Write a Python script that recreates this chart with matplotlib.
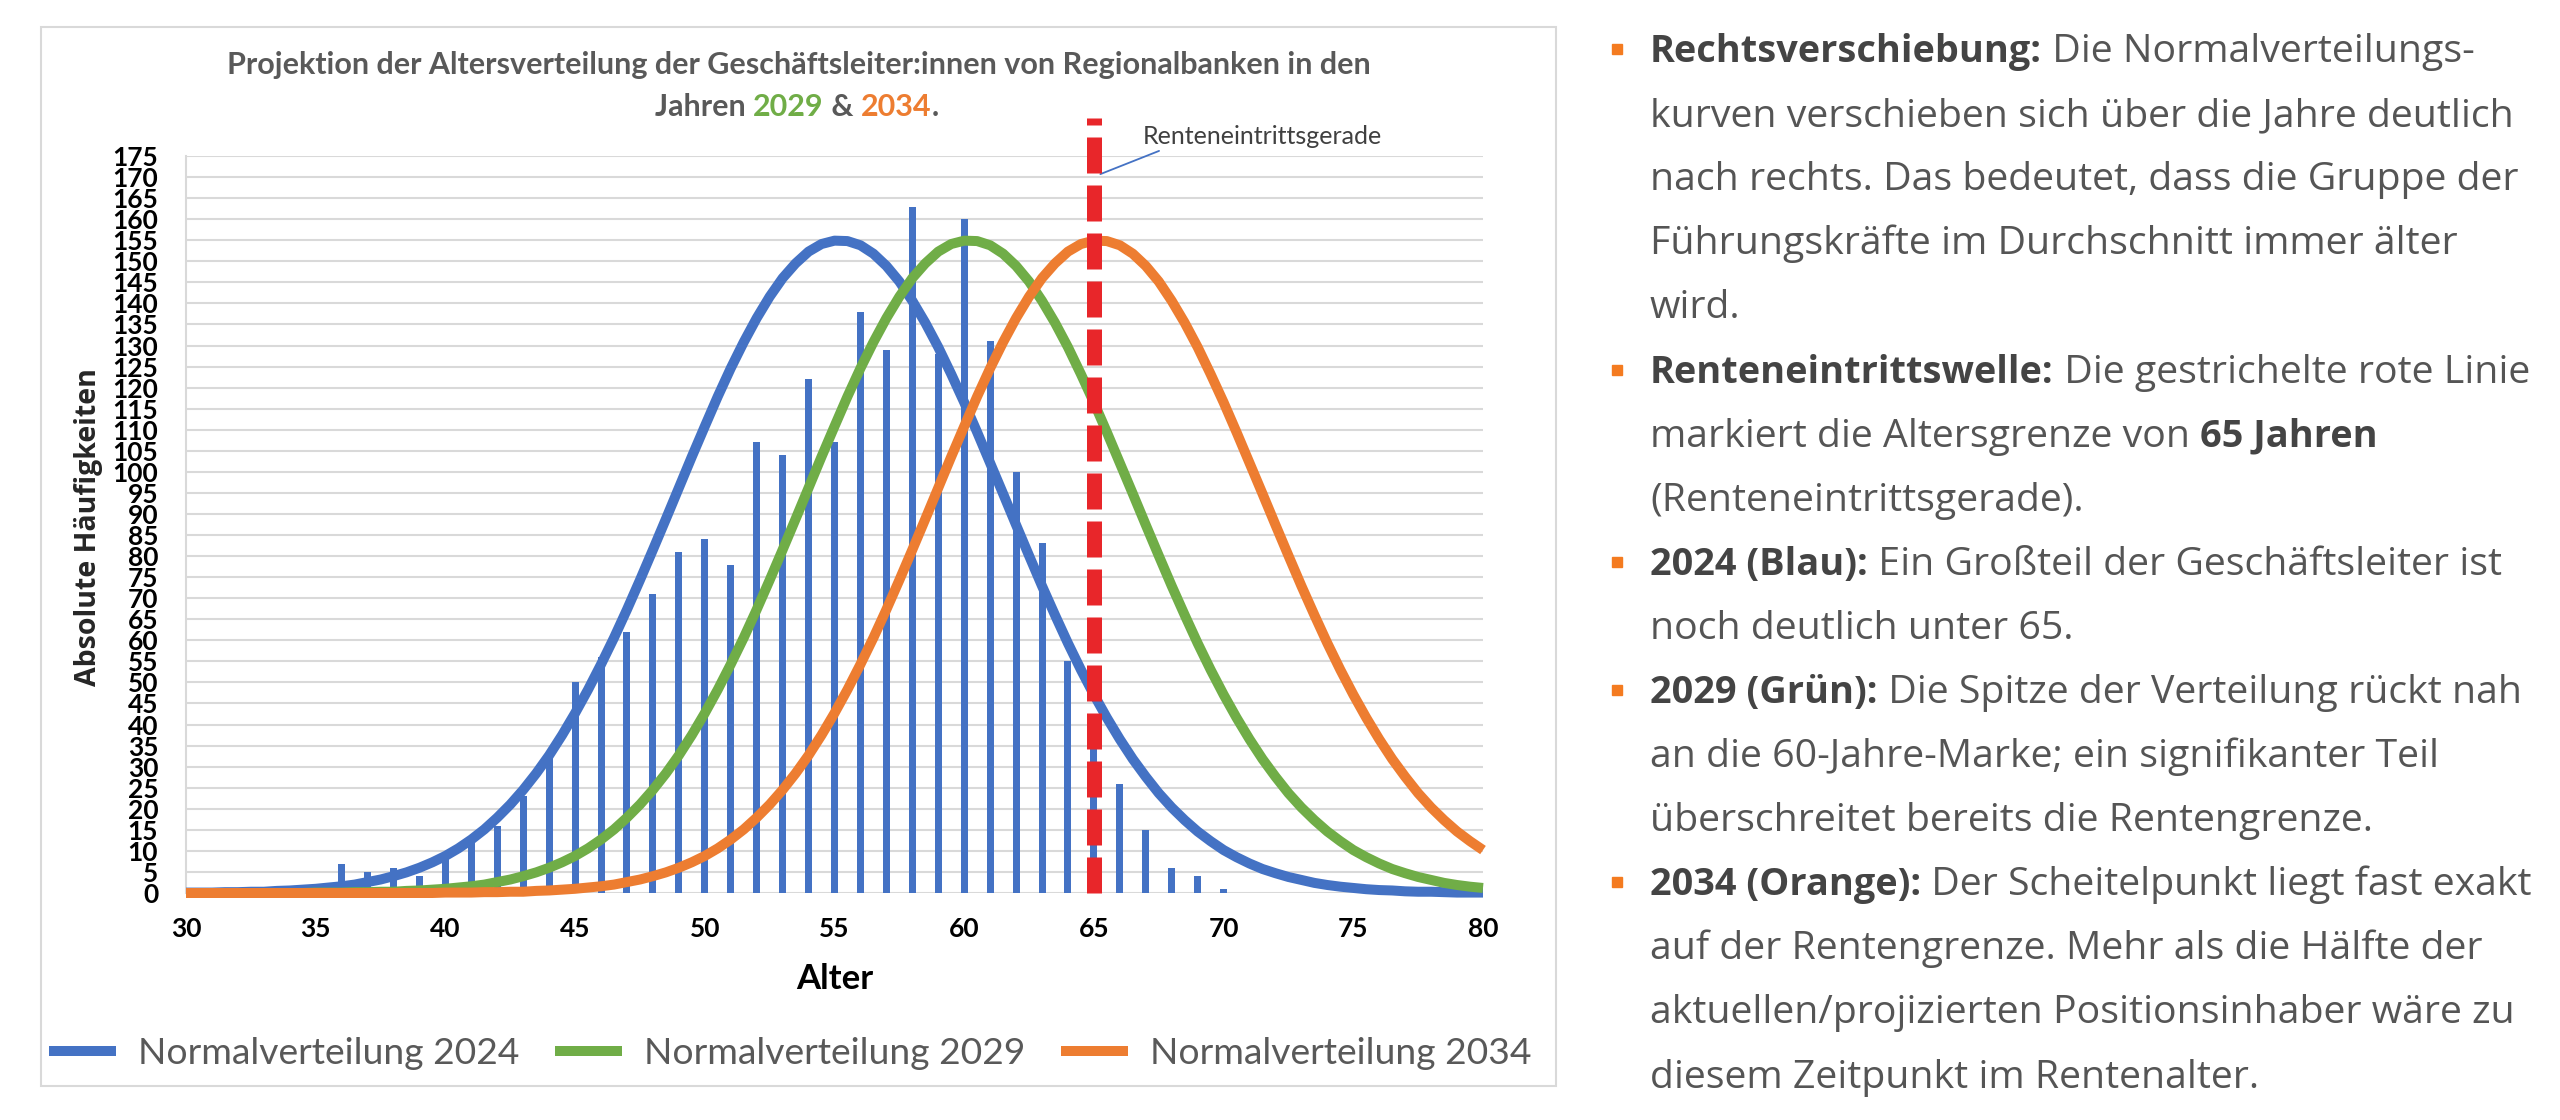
import matplotlib
matplotlib.use('Agg')
import matplotlib.pyplot as plt
from matplotlib.patches import Rectangle

# ---- data ----
# age axis of the curves, in half-year steps from 30 to 80
ages = [30 + 0.5 * i for i in range(101)]
bar_ages = list(range(36, 71))
counts = [7, 5, 6, 4, 8, 13, 16, 23, 33, 50, 56, 62, 71, 81, 84, 78, 107, 104, 122, 107,
          138, 129, 163, 128, 160, 131, 100, 83, 55, 42, 26, 15, 6, 4, 1]

normal_2024 = [0.1, 0.1, 0.1, 0.2, 0.2, 0.3, 0.3, 0.5, 0.6, 0.8,
               1.0, 1.3, 1.6, 2.0, 2.6, 3.2, 4.0, 4.9, 6.0, 7.3,
               8.8, 10.6, 12.7, 15.1, 17.9, 21.0, 24.5, 28.4, 32.7, 37.5,
               42.7, 48.3, 54.3, 60.6, 67.3, 74.3, 81.5, 88.8, 96.2, 103.6,
               110.8, 117.9, 124.6, 130.8, 136.5, 141.6, 146.0, 149.5, 152.3, 154.1,
               154.9, 154.8, 153.8, 151.8, 148.9, 145.2, 140.6, 135.4, 129.6, 123.2,
               116.5, 109.4, 102.1, 94.8, 87.4, 80.1, 72.9, 66.0, 59.3, 53.0,
               47.1, 41.6, 36.5, 31.8, 27.6, 23.7, 20.3, 17.3, 14.6, 12.3,
               10.2, 8.5, 7.0, 5.7, 4.7, 3.8, 3.1, 2.4, 1.9, 1.5,
               1.2, 0.9, 0.7, 0.6, 0.4, 0.3, 0.3, 0.2, 0.1, 0.1,
               0.1]
normal_2029 = [0.0, 0.0, 0.0, 0.0, 0.0, 0.0, 0.0, 0.0, 0.0, 0.0,
               0.1, 0.1, 0.1, 0.2, 0.2, 0.3, 0.3, 0.5, 0.6, 0.8,
               1.0, 1.3, 1.6, 2.0, 2.6, 3.2, 4.0, 4.9, 6.0, 7.3,
               8.8, 10.6, 12.7, 15.1, 17.9, 21.0, 24.5, 28.4, 32.7, 37.5,
               42.7, 48.3, 54.3, 60.6, 67.3, 74.3, 81.5, 88.8, 96.2, 103.6,
               110.8, 117.9, 124.6, 130.8, 136.5, 141.6, 146.0, 149.5, 152.3, 154.1,
               154.9, 154.8, 153.8, 151.8, 148.9, 145.2, 140.6, 135.4, 129.6, 123.2,
               116.5, 109.4, 102.1, 94.8, 87.4, 80.1, 72.9, 66.0, 59.3, 53.0,
               47.1, 41.6, 36.5, 31.8, 27.6, 23.7, 20.3, 17.3, 14.6, 12.3,
               10.2, 8.5, 7.0, 5.7, 4.7, 3.8, 3.1, 2.4, 1.9, 1.5,
               1.2]
normal_2034 = [0.0, 0.0, 0.0, 0.0, 0.0, 0.0, 0.0, 0.0, 0.0, 0.0,
               0.0, 0.0, 0.0, 0.0, 0.0, 0.0, 0.0, 0.0, 0.0, 0.0,
               0.1, 0.1, 0.1, 0.2, 0.2, 0.3, 0.3, 0.5, 0.6, 0.8,
               1.0, 1.3, 1.6, 2.0, 2.6, 3.2, 4.0, 4.9, 6.0, 7.3,
               8.8, 10.6, 12.7, 15.1, 17.9, 21.0, 24.5, 28.4, 32.7, 37.5,
               42.7, 48.3, 54.3, 60.6, 67.3, 74.3, 81.5, 88.8, 96.2, 103.6,
               110.8, 117.9, 124.6, 130.8, 136.5, 141.6, 146.0, 149.5, 152.3, 154.1,
               154.9, 154.8, 153.8, 151.8, 148.9, 145.2, 140.6, 135.4, 129.6, 123.2,
               116.5, 109.4, 102.1, 94.8, 87.4, 80.1, 72.9, 66.0, 59.3, 53.0,
               47.1, 41.6, 36.5, 31.8, 27.6, 23.7, 20.3, 17.3, 14.6, 12.3,
               10.2]
retirement_age = 65

series_labels = ['Normalverteilung 2024', 'Normalverteilung 2029', 'Normalverteilung 2034']
title_line1 = 'Projektion der Altersverteilung der Geschäftsleiter:innen von Regionalbanken in den'

# right-hand notes: (text, bold)
notes = [
    [('Rechtsverschiebung:', True), (' Die Normalverteilungs-', False)],
    [('kurven verschieben sich über die Jahre deutlich', False)],
    [('nach rechts. Das bedeutet, dass die Gruppe der', False)],
    [('Führungskräfte im Durchschnitt immer älter', False)],
    [('wird.', False)],
    [('Renteneintrittswelle:', True), (' Die gestrichelte rote Linie', False)],
    [('markiert die Altersgrenze von ', False), ('65 Jahren', True)],
    [('(Renteneintrittsgerade).', False)],
    [('2024 (Blau):', True), (' Ein Großteil der Geschäftsleiter ist', False)],
    [('noch deutlich unter 65.', False)],
    [('2029 (Grün):', True), (' Die Spitze der Verteilung rückt nah', False)],
    [('an die 60-Jahre-Marke; ein signifikanter Teil', False)],
    [('überschreitet bereits die Rentengrenze.', False)],
    [('2034 (Orange):', True), (' Der Scheitelpunkt liegt fast exakt', False)],
    [('auf der Rentengrenze. Mehr als die Hälfte der', False)],
    [('aktuellen/projizierten Positionsinhaber wäre zu', False)],
    [('diesem Zeitpunkt im Rentenalter.', False)],
]

BLUE = '#4472c4'
GREEN = '#70ad47'
ORANGE = '#ed7d31'
RED = '#e8262a'
GREY = '#595959'
GRID = '#d9d9d9'

W, H = 2560, 1120


def fx(px):
    return px / W


def fy(py):
    return 1 - py / H


fig = plt.figure(figsize=(W / 100, H / 100), dpi=100)
fig.patch.set_facecolor('white')
renderer = fig.canvas.get_renderer()

# frame around the chart part
fig.patches.append(Rectangle((fx(41), fy(1086)), fx(1556) - fx(41), fy(27) - fy(1086),
                             transform=fig.transFigure, fill=False,
                             edgecolor=GRID, linewidth=1.5))

ax = fig.add_axes([fx(186), fy(893), fx(1483) - fx(186), fy(156) - fy(893)])

ax.bar(bar_ages, counts, width=0.27, color=BLUE, zorder=2)
curve_kw = dict(lw=7.2, clip_on=False, solid_joinstyle='round', solid_capstyle='butt')
l1, = ax.plot(ages, normal_2024, color=BLUE, zorder=3, label=series_labels[0], **curve_kw)
l2, = ax.plot(ages, normal_2029, color=GREEN, zorder=4, label=series_labels[1], **curve_kw)
l3, = ax.plot(ages, normal_2034, color=ORANGE, zorder=5, label=series_labels[2], **curve_kw)

# retirement line, reaching above the plot area
ax.plot([retirement_age, retirement_age], [0, 184], color=RED, lw=10.8,
        linestyle=(0, (2.4, 0.8)), zorder=6, clip_on=False)

ax.annotate('Renteneintrittsgerade', xy=(65.25, 170.7), xytext=(66.9, 179.6),
            textcoords='data', ha='left', va='center', fontsize=18,
            family='Lato', color='#404040', annotation_clip=False,
            arrowprops=dict(arrowstyle='-', color=BLUE, lw=1.3,
                            relpos=(0.12, 0.1), shrinkA=0, shrinkB=0))

ax.set_xlim(30, 80)
ax.set_ylim(0, 175)
ax.set_xticks(range(30, 81, 5))
ax.set_yticks(range(0, 176, 5))
ax.yaxis.grid(True, color=GRID, linewidth=1.5)
ax.set_axisbelow(True)
for side in ['top', 'right', 'bottom']:
    ax.spines[side].set_visible(False)
ax.spines['left'].set_color(GRID)
ax.spines['left'].set_linewidth(1.5)
ax.tick_params(axis='both', length=0)
ax.tick_params(axis='y', pad=20)
ax.tick_params(axis='x', pad=17)
for lab in ax.get_xticklabels() + ax.get_yticklabels():
    lab.set_family('Lato')
    lab.set_fontweight('bold')
    lab.set_fontsize(19)
    lab.set_color('black')

ax.set_xlabel('Alter', family='Lato', fontweight='bold', fontsize=25, color='black')
ax.xaxis.label.set_va('center')
ax.xaxis.set_label_coords(0.5, -0.1167)
ax.set_ylabel('Absolute Häufigkeiten', family='Open Sans', fontweight='bold',
              fontsize=20.5, color='#262626')
ax.yaxis.label.set_va('center')
ax.yaxis.set_label_coords(-0.0748, 0.4966)

fig.legend(handles=[l1, l2, l3], loc='center', bbox_to_anchor=(fx(790), fy(1054)),
           ncol=3, frameon=False, handlelength=1.8, handletextpad=0.6,
           columnspacing=0.95, labelcolor=GREY,
           prop={'family': 'Lato', 'weight': 'normal', 'size': 26.8})


# text runs with mixed styles, placed by pen advance
def advance(s, **kw):
    a = fig.text(0, 0, '|' + s + '|', **kw)
    b = fig.text(0, 0, '||', **kw)
    w = a.get_window_extent(renderer).width - b.get_window_extent(renderer).width
    a.remove()
    b.remove()
    return w


def draw_runs(runs, x, y):
    for s, kw in runs:
        fig.text(fx(x), fy(y), s, ha='left', va='baseline', **kw)
        x += advance(s, **kw)
    return x


title_kw = dict(family='Lato', fontweight='bold', fontsize=22)
fig.text(fx(799), fy(74), title_line1, ha='center', va='baseline', color=GREY, **title_kw)
title_runs = [('Jahren ', dict(color=GREY, **title_kw)),
              ('2029', dict(color=GREEN, **title_kw)),
              (' & ', dict(color=GREY, **title_kw)),
              ('2034', dict(color=ORANGE, **title_kw)),
              ('.', dict(color=GREY, **title_kw))]
total = sum(advance(s, **kw) for s, kw in title_runs)
draw_runs(title_runs, 797 - total / 2, 116)

# notes on the right
normal_kw = dict(family='Open Sans', fontsize=28.3, color='#555555')
bold_kw = dict(family='Open Sans', fontsize=27.3, color='#444444', fontweight='bold')
for i, line in enumerate(notes):
    base = 62 + i * 64.1
    if line[0][1]:
        fig.patches.append(Rectangle((fx(1612), fy(base - 8)), fx(10), fy(0) - fy(10),
                                     transform=fig.transFigure, color='#f47b20'))
    runs = [(s, bold_kw if b else normal_kw) for s, b in line]
    draw_runs(runs, 1650, base)

fig.savefig('out.png', dpi=100)
